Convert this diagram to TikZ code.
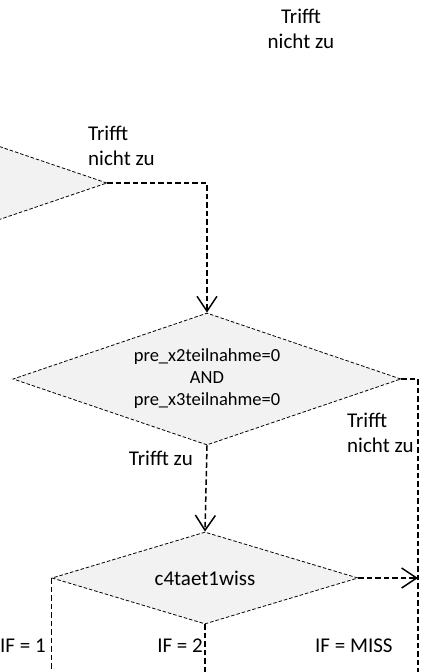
\documentclass[tikz,border=0pt]{standalone}
\usepackage{fontspec}
\setmainfont{Carlito}
\usetikzlibrary{shapes.geometric,arrows.meta}
\definecolor{dfill}{HTML}{F2F2F2}
\tikzset{
  dec/.style={diamond, draw=black, fill=dfill, line width=0.8pt,
    dash pattern=on 3.5pt off 2pt, inner sep=0pt, align=center, aspect=2.94},
  conn/.style={draw=black, line width=1.5pt, dash pattern=on 5.5pt off 3pt},
  arr/.style={-{Straight Barb[length=15pt,width=20pt,line width=1.5pt]}},
  lbl/.style={inner sep=0pt, align=left, font=\fontsize{21}{25}\selectfont}
}
\begin{document}
\begin{tikzpicture}[x=1pt,y=-1pt]
\useasboundingbox (0,0) rectangle (433,672);
\clip (0,0) rectangle (433,672);
\coordinate (bot) at (0,672);
\coordinate (rail) at (418,0);
\node[dec, minimum width=388pt, minimum height=132pt] (d1) at (-87,183) {};
\node[dec, minimum width=388pt, minimum height=132pt,
  font=\fontsize{18.5}{22}\selectfont] (d2) at (207,379)
  {pre\_x2teilnahme=0\\AND\\pre\_x3teilnahme=0};
\node[dec, minimum width=306pt, minimum height=92pt,
  font=\fontsize{21}{25}\selectfont] (d3) at (205,578) {c4taet1wiss};
\draw[conn,arr] (d1.east) -| (d2.north);
\draw[conn] (d2.east) -| (rail |- bot);
\draw[conn,arr] (d2.south) -- (d3.north);
\draw[conn,arr] (d3.east) -- (d3.east -| rail);
\draw[conn] (d3.west) -- (d3.west |- bot);
\draw[conn] (d3.south) -- (d3.south |- bot);
\node[lbl, align=center, anchor=base] (t0) at (301,48) {Trifft\\nicht zu};
\node[lbl, anchor=base west] (t1) at (88,165) {Trifft\\nicht zu};
\node[lbl, anchor=base west] (t2) at (347,452) {Trifft\\nicht zu};
\node[lbl, anchor=base east] (t3) at (193,465) {Trifft zu};
\node[lbl, anchor=base west] (c1) at (0,652) {IF = 1};
\node[lbl, anchor=base east] (c2) at (203,652) {IF = 2};
\node[lbl, anchor=base west] (c3) at (315,652) {IF = MISS};
\end{tikzpicture}
\end{document}
